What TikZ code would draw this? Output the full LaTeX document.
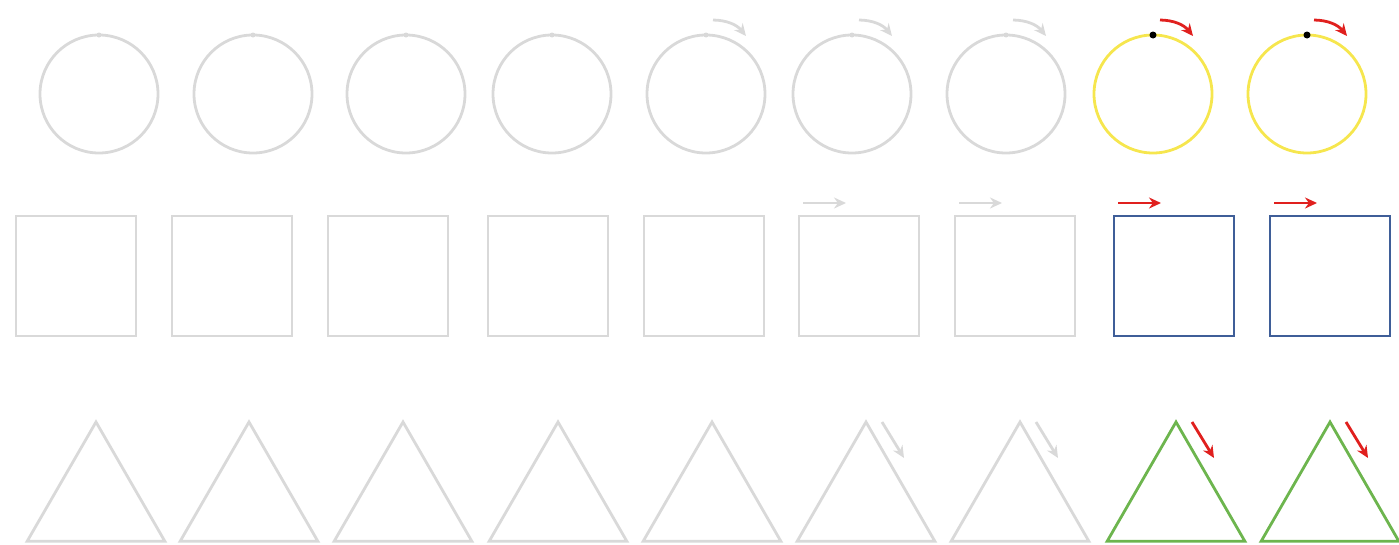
\documentclass[tikz,border=0pt]{standalone}
\usetikzlibrary{shapes.geometric,arrows.meta,calc}
\definecolor{lgray}{HTML}{D9D9D9}
\definecolor{cyel}{HTML}{F6E64E}
\definecolor{cblue}{HTML}{3F5E98}
\definecolor{cgreen}{HTML}{6DB54E}
\definecolor{cred}{HTML}{E0201E}
\tikzset{
  shp/.style={draw=#1, line width=2.8pt, inner sep=0pt, outer sep=0pt},
  circ/.style={shp=#1, circle, minimum size=118pt},
  sq/.style={shp=#1, rectangle, minimum size=120pt},
  tri/.style={shp=#1, regular polygon, regular polygon sides=3, minimum size=159pt},
  arr/.style={draw=#1, line width=2.8pt, -{Stealth[length=12pt,width=11pt]}},
}
\begin{document}
\begin{tikzpicture}[x=1pt,y=-1pt]
\useasboundingbox (0,0) rectangle (1399,544);
% circles
\foreach \i/\x/\c in {1/99/lgray,2/253/lgray,3/406/lgray,4/552/lgray,5/706/lgray,6/852/lgray,7/1006/lgray,8/1153/cyel,9/1307/cyel}{
  \node[circ=\c] (c\i) at (\x,94) {};
}
% squares
\foreach \i/\x/\c in {1/76/lgray,2/232/lgray,3/388/lgray,4/548/lgray,5/704/lgray,6/859/lgray,7/1015/lgray,8/1174/cblue,9/1330/cblue}{
  \node[sq=\c] (s\i) at (\x,276) {};
}
% triangles
\foreach \i/\x/\c in {1/96/lgray,2/249/lgray,3/403/lgray,4/558/lgray,5/712/lgray,6/866/lgray,7/1020/lgray,8/1176/cgreen,9/1330/cgreen}{
  \node[tri=\c] (t\i) at (\x,501.5) {};
}
% dots at top of circles
\foreach \i in {1,...,7}{
  \node[fill=lgray, circle, inner sep=0pt, minimum size=5pt] (d\i) at (c\i.north) {};
}
\foreach \i in {8,9}{
  \node[fill=black, circle, inner sep=0pt, minimum size=7pt] (d\i) at (c\i.north) {};
}
% circle arrows
\foreach \i/\c in {5/lgray,6/lgray,7/lgray,8/cred,9/cred}{
  \coordinate (ca\i) at ($(c\i.north)+(7,-15)$);
  \coordinate (cb\i) at ($(c\i.north)+(40,1)$);
  \draw[arr=\c] (ca\i) to[bend left=25] (cb\i);
}
% square arrows
\foreach \i/\c in {6/lgray,7/lgray,8/cred,9/cred}{
  \coordinate (sa\i) at ($(s\i.north west)+(4,-13)$);
  \coordinate (sb\i) at ($(s\i.north west)+(47,-13)$);
  \draw[arr=\c] (sa\i) -- (sb\i);
}
% triangle arrows
\foreach \i/\c in {6/lgray,7/lgray,8/cred,9/cred}{
  \coordinate (ta\i) at ($(t\i.corner 1)+(16,0)$);
  \coordinate (tb\i) at ($(t\i.corner 1)+(38,36)$);
  \draw[arr=\c] (ta\i) -- (tb\i);
}
\end{tikzpicture}
\end{document}
